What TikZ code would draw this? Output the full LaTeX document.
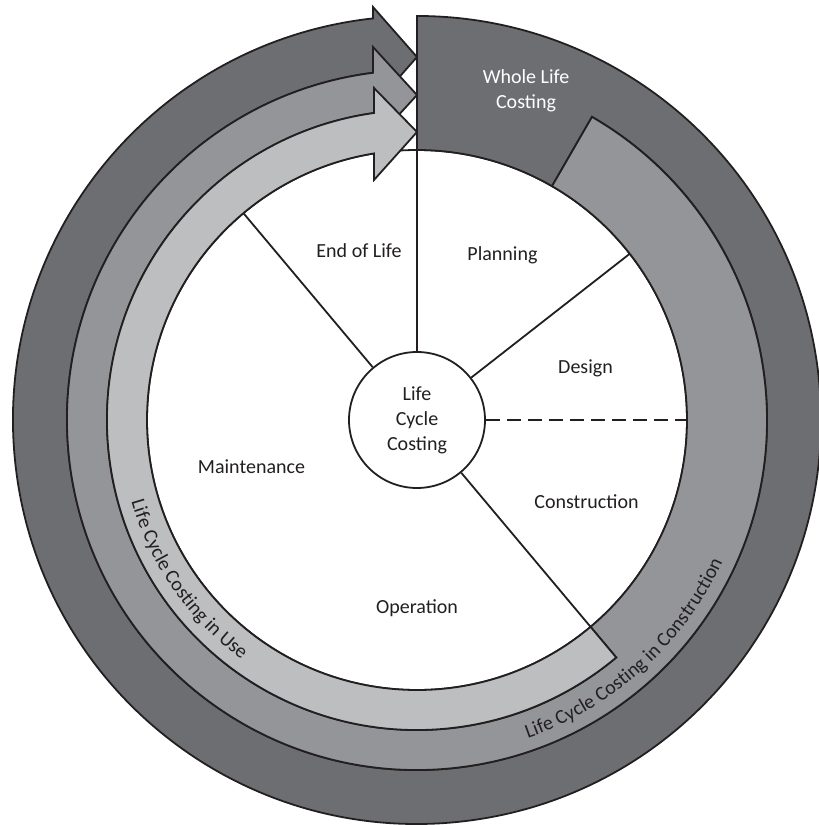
\documentclass[tikz,border=0pt]{standalone}
\usepackage{fontspec}
\setmainfont{Carlito}
\usetikzlibrary{decorations.text}
\definecolor{ink}{HTML}{231F20}
\definecolor{darkband}{HTML}{6D6E71}
\definecolor{midband}{HTML}{939598}
\definecolor{lightband}{HTML}{BCBEC0}
\begin{document}
\begin{tikzpicture}[x=1pt,y=1pt,
  band/.style={draw=ink, line width=1.8pt},
  divider/.style={draw=ink, line width=1.8pt},
  lbl/.style={font=\fontsize{20}{25}\selectfont, text=ink, inner sep=0pt, anchor=base},
  wlbl/.style={font=\fontsize{20}{25}\selectfont, text=white, inner sep=0pt, align=center}]
\useasboundingbox (-417,-405) rectangle (402,420);
% white disk
\draw[band, fill=white] (0,0) circle[radius=270pt];
% dark ring + whole life costing block + arrow head
\draw[band, fill=darkband] (-44,401.6) arc[start angle=96.25, end angle=450, radius=404pt]
  -- (0,270) arc[start angle=90, end angle=60, radius=270pt]
  -- (60:350pt) arc[start angle=60, end angle=-262.78, radius=350pt]
  -- (-44,313) -- (0,363) -- (-44,413) -- cycle;
% middle band (life cycle costing in construction)
\draw[band, fill=midband] (-44,347.2) arc[start angle=97.22, end angle=420, radius=350pt]
  -- (60:270pt) arc[start angle=60, end angle=-50, radius=270pt]
  -- (-50:310pt) arc[start angle=-50, end angle=-261.84, radius=310pt]
  -- (-44,277) -- (0,325) -- (-44,373) -- cycle;
% light band (life cycle costing in use)
\draw[band, fill=lightband] (-43,307.0) arc[start angle=97.97, end angle=310, radius=310pt]
  -- (310:270pt) arc[start angle=310, end angle=99.16, radius=270pt]
  -- (-43,240) -- (0,288) -- (-43,332) -- cycle;
% hub
\node[circle, draw=ink, fill=white, line width=1.8pt, minimum size=136pt, inner sep=0pt,
  align=center, font=\fontsize{20}{25}\selectfont, text=ink] (hub) at (0,0) {Life\\Cycle\\Costing};
% rim points
\coordinate (rimEOL) at (130:270pt);
\coordinate (rimPD) at (38:270pt);
\coordinate (rimDC) at (0:270pt);
\coordinate (rimCO) at (-50:270pt);
\coordinate (rimTop) at (0,404);
\draw[divider] (hub.130) -- (rimEOL);
\draw[divider] (hub.38) -- (rimPD);
\draw[divider, dash pattern=on 14pt off 7pt] (hub.0) -- (rimDC);
\draw[divider] (hub.-50) -- (rimCO);
\draw[divider] (hub.90) -- (rimTop);
% labels
\node[lbl] (eol) at (-58,162) {End of Life};
\node[lbl] (plan) at (85.5,159.5) {Planning};
\node[lbl] (des) at (168.5,47) {Design};
\node[lbl] (maint) at (-165.5,-53) {Maintenance};
\node[lbl] (cons) at (169.5,-88) {Construction};
\node[lbl] (oper) at (0,-193) {Operation};
\node[wlbl] (wlc) at (109,329) {Whole Life\\Costing};
% curved labels
\path[decorate, decoration={text along path, text align=left,
  text={|\fontsize{20}{24}\selectfont\color{ink}|Life Cycle Costing in Use}}]
  (196:297pt) arc[start angle=196, end angle=255, radius=297pt];
\path[decorate, decoration={text along path, text align=left,
  text={|\fontsize{20}{24}\selectfont\color{ink}|Life Cycle Costing in Construction}}]
  (-70.8:337pt) arc[start angle=-70.8, end angle=-10, radius=337pt];
\end{tikzpicture}
\end{document}
